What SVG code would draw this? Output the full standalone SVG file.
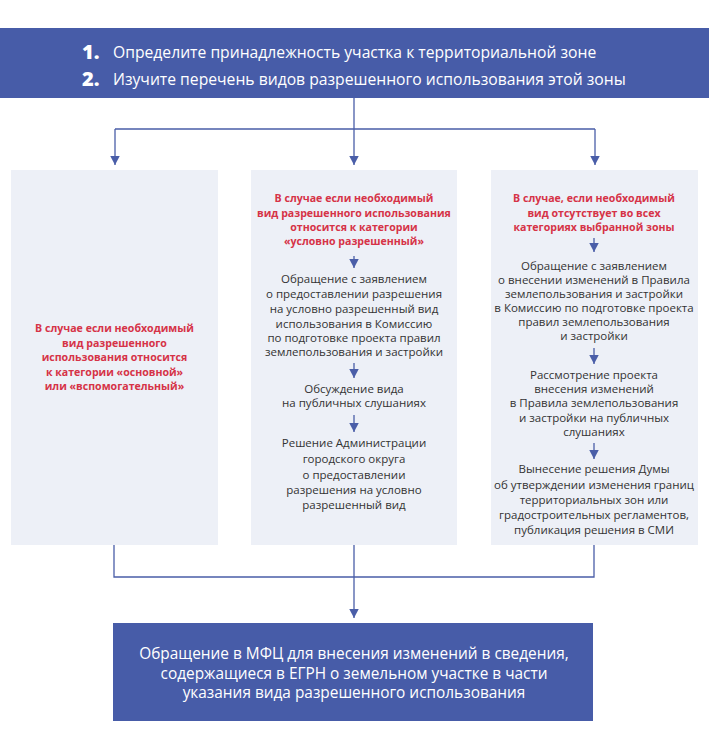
<svg xmlns="http://www.w3.org/2000/svg" width="709" height="750" viewBox="0 0 709 750">
<defs>
<style>
.band{fill:#475ca8}
.box{fill:#edf0f7}
.ln{stroke:#4a5ea8;stroke-width:1.3;fill:none}
.ah{fill:#4a5ea8}
.red{font-family:"Open Sans","Liberation Sans",sans-serif;font-size:10.6px;font-weight:700;fill:#d63347;text-anchor:middle}
.txt{font-family:"Open Sans","Liberation Sans",sans-serif;font-size:11.5px;fill:#333;text-anchor:middle}
.hd{font-family:"Open Sans","Liberation Sans",sans-serif;font-size:15.7px;fill:#fff}
.num{font-family:"Open Sans","Liberation Sans",sans-serif;font-size:20px;font-weight:800;fill:#fff}
.bt{font-family:"Open Sans","Liberation Sans",sans-serif;font-size:15.4px;fill:#fff;text-anchor:middle}
</style>
<marker id="arr" markerWidth="10" markerHeight="10" refX="9.5" refY="5" orient="auto" markerUnits="userSpaceOnUse" viewBox="0 0 10 10"><path d="M0,0 L9.5,5 L0,10 Z" class="ah"/></marker>
</defs>

<g id="header">
<rect class="band" x="0" y="28" width="709" height="70"/>
<text class="num" x="82" y="59">1.</text>
<text class="hd" x="113" y="58">Определите принадлежность участка к территориальной зоне</text>
<text class="num" x="82" y="86">2.</text>
<text class="hd" x="113" y="85">Изучите перечень видов разрешенного использования этой зоны</text>
</g>

<g id="connectors">
<path class="ln" d="M354,98 V129 M115,129 H595"/>
<path class="ln" d="M115,129 V165" marker-end="url(#arr)"/>
<path class="ln" d="M354,129 V165" marker-end="url(#arr)"/>
<path class="ln" d="M595,129 V165" marker-end="url(#arr)"/>
<path class="ln" d="M114,545 V577 H594 V545"/>
<path class="ln" d="M354,545 V618" marker-end="url(#arr)"/>
</g>

<g id="box-left">
<rect class="box" x="11" y="170" width="207" height="375"/>
<text class="red" x="114.5" y="332">В случае если необходимый</text>
<text class="red" x="114.5" y="347">вид разрешенного</text>
<text class="red" x="114.5" y="361">использования относится</text>
<text class="red" x="114.5" y="376">к категории «основной»</text>
<text class="red" x="114.5" y="390">или «вспомогательный»</text>
</g>

<g id="box-middle">
<rect class="box" x="251" y="170" width="206" height="375"/>
<text class="red" x="354" y="202">В случае если необходимый</text>
<text class="red" x="354" y="217">вид разрешенного использования</text>
<text class="red" x="354" y="231">относится к категории</text>
<text class="red" x="354" y="245">«условно разрешенный»</text>
<path class="ln" d="M354,256 V268" marker-end="url(#arr)"/>
<text class="txt" x="354" y="283">Обращение с заявлением</text>
<text class="txt" x="354" y="298">о предоставлении разрешения</text>
<text class="txt" x="354" y="313">на условно разрешенный вид</text>
<text class="txt" x="354" y="328">использования в Комиссию</text>
<text class="txt" x="354" y="342">по подготовке проекта правил</text>
<text class="txt" x="354" y="356">землепользования и застройки</text>
<path class="ln" d="M354,363 V378" marker-end="url(#arr)"/>
<text class="txt" x="354" y="393">Обсуждение вида</text>
<text class="txt" x="354" y="407">на публичных слушаниях</text>
<path class="ln" d="M354,415 V432" marker-end="url(#arr)"/>
<text class="txt" x="354" y="447">Решение Администрации</text>
<text class="txt" x="354" y="463">городского округа</text>
<text class="txt" x="354" y="479">о предоставлении</text>
<text class="txt" x="354" y="494">разрешения на условно</text>
<text class="txt" x="354" y="509">разрешенный вид</text>
</g>

<g id="box-right">
<rect class="box" x="491" y="170" width="207" height="375"/>
<text class="red" x="594" y="202">В случае, если необходимый</text>
<text class="red" x="594" y="217">вид  отсутствует во всех</text>
<text class="red" x="594" y="231">категориях выбранной зоны</text>
<path class="ln" d="M594,238 V252" marker-end="url(#arr)"/>
<text class="txt" x="594" y="270">Обращение с заявлением</text>
<text class="txt" x="594" y="284">о внесении изменений в Правила</text>
<text class="txt" x="594" y="298">землепользования и застройки</text>
<text class="txt" x="594" y="312">в Комиссию по подготовке проекта</text>
<text class="txt" x="594" y="326">правил землепользования</text>
<text class="txt" x="594" y="340">и застройки</text>
<path class="ln" d="M594,348 V364" marker-end="url(#arr)"/>
<text class="txt" x="594" y="379">Рассмотрение проекта</text>
<text class="txt" x="594" y="393">внесения изменений</text>
<text class="txt" x="594" y="407">в Правила землепользования</text>
<text class="txt" x="594" y="422">и застройки на публичных</text>
<text class="txt" x="594" y="436">слушаниях</text>
<path class="ln" d="M594,443 V459" marker-end="url(#arr)"/>
<text class="txt" x="594" y="473">Вынесение решения Думы</text>
<text class="txt" x="594" y="489">об утверждении изменения границ</text>
<text class="txt" x="594" y="504">территориальных зон или</text>
<text class="txt" x="594" y="519">градостроительных регламентов,</text>
<text class="txt" x="594" y="534">публикация решения в СМИ</text>
</g>

<g id="bottom">
<rect class="band" x="113" y="623" width="480" height="98"/>
<text class="bt" x="354" y="659">Обращение в МФЦ для внесения изменений в сведения,</text>
<text class="bt" x="354" y="678.5">содержащиеся в ЕГРН о земельном участке в части</text>
<text class="bt" x="354" y="698">указания вида разрешенного использования</text>
</g>
</svg>
